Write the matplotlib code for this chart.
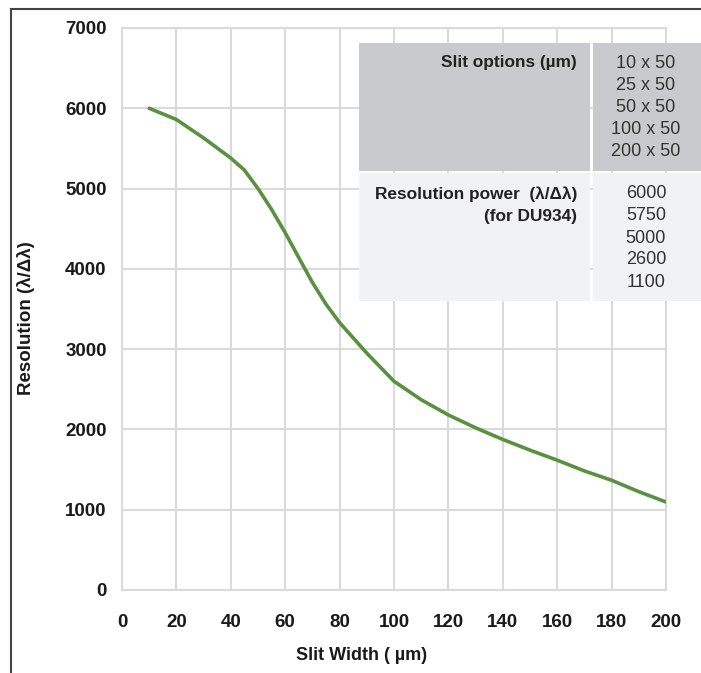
import matplotlib
matplotlib.use('Agg')
import matplotlib.pyplot as plt
from matplotlib.patches import Rectangle
from matplotlib.lines import Line2D

plt.rcParams['font.family'] = ['Liberation Sans', 'DejaVu Sans']

# curve
slit_width = [10, 20, 30, 40, 45, 50, 55, 60, 65, 70, 75, 80, 90, 100, 110, 120,
              130, 140, 150, 160, 170, 180, 190, 200]
resolution = [6000, 5860, 5630, 5380, 5230, 5000, 4740, 4450, 4140, 3830, 3560, 3330,
              2950, 2600, 2370, 2180, 2020, 1875, 1742, 1617, 1483, 1367, 1225, 1096]

x_ticks = list(range(0, 201, 20))
y_ticks = list(range(0, 7001, 1000))

slit_options = ['10 x 50', '25 x 50', '50 x 50', '100 x 50', '200 x 50']
res_power = ['6000', '5750', '5000', '2600', '1100']

W, H = 701, 673
fig = plt.figure(figsize=(W / 100, H / 100), dpi=100)


def fx(px):
    return px / W


def fy(py):
    return 1 - py / H


ax = fig.add_axes([fx(122), fy(590), fx(666) - fx(122), fy(28) - fy(590)])
ax.plot(slit_width, resolution, color='#5a9140', lw=2.6, solid_capstyle='round', zorder=3)
ax.set_xlim(0, 200)
ax.set_ylim(0, 7000)
ax.set_xticks(x_ticks)
ax.set_yticks(y_ticks)
ax.grid(True, color='#dadada', lw=1.5)
ax.set_axisbelow(True)
for s in ax.spines.values():
    s.set_color('#dadada')
    s.set_linewidth(1.5)
ax.tick_params(length=0, labelsize=13.5, colors='#1a1a1a')
ax.tick_params(axis='x', pad=17)
ax.tick_params(axis='y', pad=11)
for lab in ax.get_xticklabels() + ax.get_yticklabels():
    lab.set_fontweight('bold')

fig.text(fx(362), fy(656), 'Slit Width ( µm)', ha='center', va='center',
         fontsize=13, fontweight='bold', color='#1a1a1a')
fig.text(fx(26), fy(318), 'Resolution (λ/Δλ)', ha='center', va='center', rotation=90,
         fontsize=13.5, fontweight='bold', color='#1a1a1a')

# outer frame (left and top only)
fig.add_artist(Line2D([fx(11), fx(11)], [0, fy(9)], color='#444444', lw=1.5))
fig.add_artist(Line2D([fx(11), 1], [fy(9), fy(9)], color='#444444', lw=1.5))

# table
gray, light = '#c9cacd', '#f1f2f4'
cells = [(359, 43, 590, 171, gray), (593, 43, 701, 171, gray),
         (359, 173, 590, 301, light), (593, 173, 701, 301, light)]
for x0, y0, x1, y1, c in cells:
    fig.add_artist(Rectangle((fx(x0), fy(y1)), fx(x1) - fx(x0), fy(y0) - fy(y1),
                             facecolor=c, edgecolor='none', zorder=5))

fig.text(fx(577), fy(63), 'Slit options (µm)', ha='right', va='center', fontsize=12.4,
         fontweight='bold', color='#222222', zorder=6)
fig.text(fx(577), fy(194), 'Resolution power  (λ/Δλ)', ha='right', va='center',
         fontsize=12.4, fontweight='bold', color='#222222', zorder=6)
fig.text(fx(577), fy(217), '(for DU934)', ha='right', va='center', fontsize=12.4,
         fontweight='bold', color='#222222', zorder=6)
for i, t in enumerate(slit_options):
    fig.text(fx(646), fy(63 + i * 22), t, ha='center', va='center', fontsize=13,
             color='#333333', zorder=6)
for i, t in enumerate(res_power):
    fig.text(fx(646), fy(194 + i * 22), t, ha='center', va='center', fontsize=13,
             color='#333333', zorder=6)

fig.savefig('out.png', dpi=100)
